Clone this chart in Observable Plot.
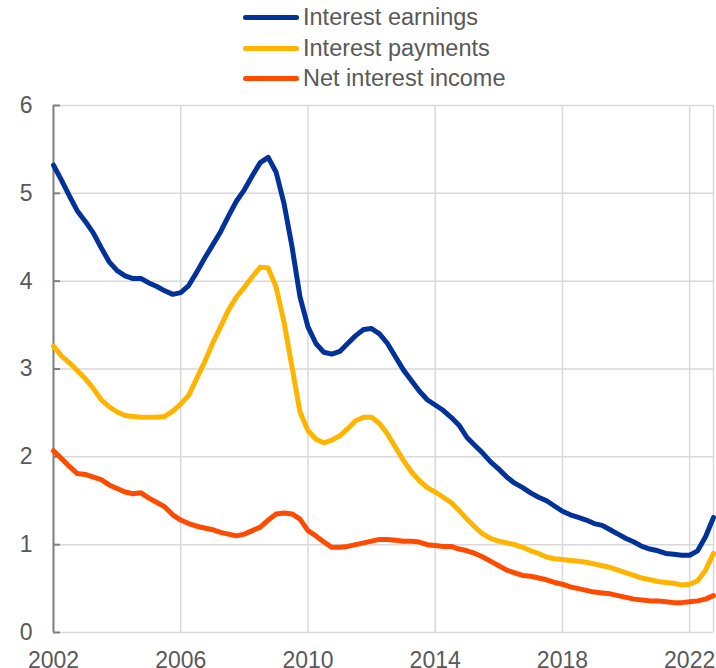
<!DOCTYPE html>
<html>
<head>
<meta charset="utf-8">
<script src="https://cdn.jsdelivr.net/npm/d3@7"></script>
<script src="https://cdn.jsdelivr.net/npm/@observablehq/plot@0.6"></script>
<style>
  html, body { margin: 0; padding: 0; background: #fff; }
  body { width: 716px; height: 668px; overflow: hidden; font-family: "Liberation Sans", Arial, sans-serif; }
  #legend { height: 92px; box-sizing: border-box; padding-top: 2px; padding-left: 243px; }
  .row { height: 30.5px; line-height: 30.5px; font-size: 23.5px; color: #595959; white-space: nowrap; }
  .sw { display: inline-block; width: 56px; height: 5px; border-radius: 3px; vertical-align: middle; margin-right: 4px; position: relative; top: -1px; }
</style>
</head>
<body>
<div id="legend"></div>
<div id="chart"></div>
<script>
const seriesNames = ["Interest earnings", "Interest payments", "Net interest income"];
const seriesColors = ["#003299", "#FFB400", "#FF4B00"];
const startYear = 2002;
const xTicks = [2002, 2006, 2010, 2014, 2018, 2022];
const yTicks = [0, 1, 2, 3, 4, 5, 6];
const xDomain = [2002, 2022.75];

// quarterly values, 2002 Q1 - 2022 Q4
const interestEarnings = [
  5.32, 5.15, 4.97, 4.80,
  4.68, 4.55, 4.38, 4.22,
  4.12, 4.06, 4.03, 4.03,
  3.98, 3.94, 3.89, 3.85,
  3.87, 3.95, 4.10, 4.26,
  4.41, 4.56, 4.74, 4.91,
  5.04, 5.20, 5.35, 5.41,
  5.24, 4.88, 4.39, 3.82,
  3.48, 3.29, 3.19, 3.17,
  3.20, 3.29, 3.38, 3.45,
  3.46, 3.40, 3.29, 3.14,
  2.99, 2.87, 2.75, 2.65,
  2.59, 2.53, 2.45, 2.36,
  2.22, 2.13, 2.04, 1.94,
  1.86, 1.77, 1.70, 1.65,
  1.59, 1.54, 1.50, 1.44,
  1.38, 1.34, 1.31, 1.28,
  1.24, 1.22, 1.17, 1.12,
  1.07, 1.03, 0.98, 0.95,
  0.93, 0.90, 0.89, 0.88,
  0.88, 0.93, 1.09, 1.31
];
const interestPayments = [
  3.26, 3.15, 3.07, 2.98,
  2.89, 2.78, 2.65, 2.57,
  2.51, 2.47, 2.46, 2.45,
  2.45, 2.45, 2.46, 2.52,
  2.60, 2.70, 2.89, 3.08,
  3.29, 3.48, 3.67, 3.82,
  3.93, 4.05, 4.16, 4.15,
  3.93, 3.53, 3.02, 2.51,
  2.30, 2.20, 2.16, 2.19,
  2.24, 2.32, 2.41, 2.45,
  2.45, 2.38, 2.26, 2.11,
  1.96, 1.83, 1.73, 1.65,
  1.60, 1.54, 1.48, 1.39,
  1.29, 1.20, 1.12, 1.07,
  1.04, 1.02, 1.00, 0.97,
  0.93, 0.90, 0.86, 0.84,
  0.83, 0.82, 0.81, 0.80,
  0.78, 0.76, 0.74, 0.71,
  0.68, 0.65, 0.62, 0.60,
  0.58, 0.57, 0.56, 0.54,
  0.55, 0.59, 0.71, 0.90
];
const netInterestIncome = [
  2.07, 1.98, 1.89, 1.81,
  1.80, 1.77, 1.74, 1.68,
  1.64, 1.60, 1.58, 1.59,
  1.53, 1.48, 1.43, 1.34,
  1.28, 1.24, 1.21, 1.19,
  1.17, 1.14, 1.12, 1.10,
  1.12, 1.16, 1.20, 1.28,
  1.35, 1.36, 1.35, 1.29,
  1.16, 1.10, 1.03, 0.97,
  0.97, 0.98, 1.00, 1.02,
  1.04, 1.06, 1.06, 1.05,
  1.04, 1.04, 1.03, 1.00,
  0.99, 0.98, 0.98, 0.95,
  0.93, 0.90, 0.86, 0.81,
  0.76, 0.71, 0.68, 0.65,
  0.64, 0.62, 0.60, 0.57,
  0.55, 0.52, 0.50, 0.48,
  0.46, 0.45, 0.44, 0.42,
  0.40, 0.38, 0.37, 0.36,
  0.36, 0.35, 0.34, 0.34,
  0.35, 0.36, 0.38, 0.42
];

const allSeries = [interestEarnings, interestPayments, netInterestIncome];
const rows = [];
allSeries.forEach((vals, s) => {
  vals.forEach((v, i) => rows.push({series: seriesNames[s], x: startYear + i / 4, y: v}));
});

// legend
const legend = document.getElementById("legend");
seriesNames.forEach((name, i) => {
  const r = document.createElement("div");
  r.className = "row";
  const sw = document.createElement("span");
  sw.className = "sw";
  sw.style.background = seriesColors[i];
  r.appendChild(sw);
  r.appendChild(document.createTextNode(name));
  legend.appendChild(r);
});

const W = 716, ML = 53, MR = 3;
const frameWidth = W - ML - MR;

const chart = Plot.plot({
  width: W,
  height: 576,
  marginTop: 13,
  marginBottom: 36,
  marginLeft: ML,
  marginRight: MR,
  style: {fontFamily: "'Liberation Sans', Arial, sans-serif", fontSize: "23px", color: "#595959", background: "#fff", overflow: "visible"},
  x: {domain: xDomain, ticks: xTicks, tickFormat: d => String(d), label: null},
  y: {domain: [0, 6], ticks: yTicks, tickFormat: d => String(d), label: null},
  color: {domain: seriesNames, range: seriesColors},
  marks: [
    Plot.gridX(xTicks.concat([xDomain[1]]), {stroke: "#d9d9d9", strokeOpacity: 1, strokeWidth: 1.5}),
    Plot.gridY(yTicks, {stroke: "#d9d9d9", strokeOpacity: 1, strokeWidth: 1.5}),
    Plot.ruleY(yTicks, {stroke: "#808080", strokeWidth: 2, insetRight: frameWidth - 7}),
    Plot.ruleX([xDomain[0]], {stroke: "#808080", strokeWidth: 2}),
    Plot.axisX(xTicks, {tickSize: 0, tickPadding: 19, fill: "#595959", fontSize: 23, tickFormat: d => String(d), label: null}),
    Plot.axisY(yTicks, {tickSize: 0, tickPadding: 21, fill: "#595959", fontSize: 23, tickFormat: d => String(d), label: null}),
    Plot.line(rows, {x: "x", y: "y", z: "series", stroke: "series", strokeWidth: 5, strokeLinejoin: "round", strokeLinecap: "round"})
  ]
});
document.getElementById("chart").appendChild(chart);
</script>
</body>
</html>
